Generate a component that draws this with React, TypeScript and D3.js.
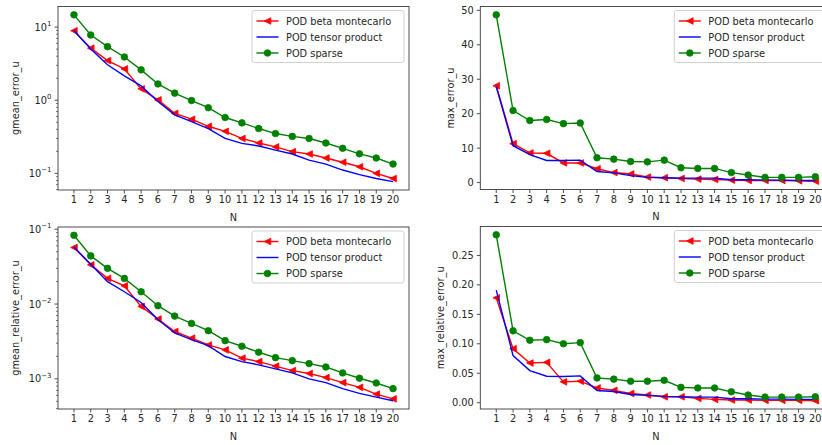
import React from 'react';
import * as d3 from 'd3';

const nValues = [1, 2, 3, 4, 5, 6, 7, 8, 9, 10, 11, 12, 13, 14, 15, 16, 17, 18, 19, 20];
const seriesNames = ['POD beta montecarlo', 'POD tensor product', 'POD sparse'];

const gmeanErrorBeta = [8.9, 5.15, 3.48, 2.68, 1.43, 1.01, 0.66, 0.55, 0.44, 0.376, 0.3, 0.26, 0.23, 0.198, 0.184, 0.162, 0.142, 0.123, 0.1, 0.085];
const gmeanErrorTensor = [8.9, 5.0, 3.05, 2.15, 1.57, 0.96, 0.63, 0.51, 0.41, 0.3, 0.257, 0.237, 0.208, 0.184, 0.152, 0.134, 0.111, 0.096, 0.085, 0.077];
const gmeanErrorSparse = [14.7, 7.8, 5.4, 3.9, 2.6, 1.67, 1.25, 0.99, 0.79, 0.58, 0.49, 0.41, 0.35, 0.32, 0.3, 0.26, 0.22, 0.185, 0.162, 0.134];

const maxErrorBeta = [28.1, 11.3, 8.6, 8.5, 5.7, 5.7, 4.0, 2.9, 2.5, 1.6, 1.4, 1.2, 1.0, 0.9, 0.7, 0.6, 0.6, 0.6, 0.5, 0.4];
const maxErrorTensor = [27.8, 10.7, 8.1, 6.4, 6.4, 6.5, 3.2, 2.8, 2.0, 1.5, 1.4, 1.3, 1.3, 1.3, 0.8, 0.8, 0.7, 0.7, 0.6, 0.6];
const maxErrorSparse = [48.7, 20.9, 18.0, 18.3, 17.1, 17.3, 7.2, 6.8, 6.1, 6.0, 6.5, 4.3, 4.1, 4.1, 2.9, 2.2, 1.5, 1.5, 1.5, 1.7];

const gmeanRelBeta = [0.057, 0.0334, 0.022, 0.0175, 0.0093, 0.0063, 0.0043, 0.0035, 0.00284, 0.00244, 0.00189, 0.0017, 0.00148, 0.00129, 0.00118, 0.00104, 0.00089, 0.00077, 0.000625, 0.00054];
const gmeanRelTensor = [0.058, 0.034, 0.0199, 0.0146, 0.0105, 0.0062, 0.0041, 0.00334, 0.00278, 0.00199, 0.0017, 0.00154, 0.00136, 0.0012, 0.001, 0.00089, 0.00074, 0.00064, 0.00057, 0.00051];
const gmeanRelSparse = [0.083, 0.044, 0.03, 0.022, 0.0146, 0.0095, 0.0069, 0.0055, 0.0044, 0.00324, 0.00273, 0.00227, 0.00192, 0.00175, 0.0016, 0.00144, 0.0012, 0.00102, 0.00088, 0.00074];

const maxRelBeta = [0.178, 0.0916, 0.0674, 0.0685, 0.0354, 0.0365, 0.025, 0.021, 0.0157, 0.013, 0.01, 0.01, 0.0073, 0.0056, 0.0045, 0.0045, 0.004, 0.004, 0.004, 0.0034];
const maxRelTensor = [0.191, 0.08, 0.0545, 0.0449, 0.0444, 0.0455, 0.0208, 0.019, 0.014, 0.0124, 0.0107, 0.01, 0.0095, 0.0095, 0.0067, 0.0067, 0.006, 0.006, 0.0056, 0.0056];
const maxRelSparse = [0.285, 0.122, 0.106, 0.107, 0.1, 0.102, 0.042, 0.04, 0.0365, 0.0365, 0.038, 0.026, 0.025, 0.025, 0.0185, 0.013, 0.0095, 0.0095, 0.0095, 0.01];

const maxErrorTicks = [0, 10, 20, 30, 40, 50];
const maxRelTicks = [0, 0.05, 0.1, 0.15, 0.2, 0.25];

const FONT = 'DejaVu Sans';
const FS = 9.8;
const TXT = '#262626';
const SPINE = '#3a3a3a';
const RED = '#ff0000';
const BLUE = '#0000ff';
const GREEN = '#008000';
const MS = 3.3;

function triLeft(cx: number, cy: number, s: number) {
  return `M${cx - s},${cy} L${cx + s},${cy - s} L${cx + s},${cy + s} Z`;
}

const supMap: Record<string, string> = { '-': '\u2212' };

type PanelProps = {
  left: number; top: number; width: number; height: number;
  log: boolean;
  beta: number[]; tensor: number[]; sparse: number[];
  yTicks?: number[]; yFmt?: (v: number) => string;
  yLabel: string; yLabelX: number;
};

function Panel(p: PanelProps) {
  const { left, top, width, height, log, beta, tensor, sparse } = p;
  const right = left + width;
  const bottom = top + height;
  const x = d3.scaleLinear().domain([1 - 0.95, 20 + 0.95]).range([left, right]);
  const all = [...beta, ...tensor, ...sparse];
  let y: any;
  const majors: number[] = [];
  const minors: number[] = [];
  if (log) {
    const lo = Math.log10(d3.min(all) as number);
    const hi = Math.log10(d3.max(all) as number);
    const m = (hi - lo) * 0.05;
    const d0 = lo - m, d1 = hi + m;
    y = d3.scaleLog().domain([10 ** d0, 10 ** d1]).range([bottom, top]);
    for (let k = Math.floor(d0); k <= Math.ceil(d1); k++) {
      const v = 10 ** k;
      if (k >= d0 && k <= d1) majors.push(k);
      for (let j = 2; j <= 9; j++) {
        const mv = j * v;
        const lm = Math.log10(mv);
        if (lm >= d0 && lm <= d1) minors.push(mv);
      }
    }
  } else {
    const lo = d3.min(all) as number;
    const hi = d3.max(all) as number;
    const m = (hi - lo) * 0.05;
    y = d3.scaleLinear().domain([lo - m, hi + m]).range([bottom, top]);
  }
  const line = d3.line<number>().x((_, i) => x(nValues[i])).y((d) => y(d));

  const legW = 152, legH = 52;
  const legX = right - 5 - legW;
  const legY = top + 4;

  return (
    <g>
      <path d={line(beta) as string} fill="none" stroke={RED} strokeWidth={1.4} />
      {beta.map((v, i) => (
        <path key={'b' + i} d={triLeft(x(nValues[i]), y(v), MS)} fill={RED} stroke={RED} strokeWidth={0.8} />
      ))}
      <path d={line(tensor) as string} fill="none" stroke={BLUE} strokeWidth={1.4} />
      <path d={line(sparse) as string} fill="none" stroke={GREEN} strokeWidth={1.4} />
      {sparse.map((v, i) => (
        <circle key={'s' + i} cx={x(nValues[i])} cy={y(v)} r={MS} fill={GREEN} stroke={GREEN} strokeWidth={0.8} />
      ))}

      <rect x={left} y={top} width={width} height={height} fill="none" stroke={SPINE} strokeWidth={0.9} />

      {nValues.map((n) => (
        <g key={'x' + n}>
          <line x1={x(n)} x2={x(n)} y1={bottom} y2={bottom + 3.5} stroke={SPINE} strokeWidth={0.9} />
          <text x={x(n)} y={bottom + 13} textAnchor="middle" fontFamily={FONT} fontSize={FS} fill={TXT}>{n}</text>
        </g>
      ))}
      <text x={(left + right) / 2} y={bottom + 30.5} textAnchor="middle" fontFamily={FONT} fontSize={FS} fill={TXT}>N</text>

      {log && minors.map((v, i) => (
        <line key={'mn' + i} x1={left - 2} x2={left} y1={y(v)} y2={y(v)} stroke={SPINE} strokeWidth={0.7} />
      ))}
      {log && majors.map((k) => (
        <g key={'mj' + k}>
          <line x1={left - 3.5} x2={left} y1={y(10 ** k)} y2={y(10 ** k)} stroke={SPINE} strokeWidth={0.9} />
          <text x={left - 6.5} y={y(10 ** k) + 3.5} textAnchor="end" fontFamily={FONT} fontSize={FS} fill={TXT}>
            10<tspan fontSize={7} dy={-4.4}>{String(k).split('').map((c) => supMap[c] || c).join('')}</tspan>
          </text>
        </g>
      ))}
      {!log && (p.yTicks || []).map((v) => (
        <g key={'yt' + v}>
          <line x1={left - 3.5} x2={left} y1={y(v)} y2={y(v)} stroke={SPINE} strokeWidth={0.9} />
          <text x={left - 6.5} y={y(v) + 3.5} textAnchor="end" fontFamily={FONT} fontSize={FS} fill={TXT}>{p.yFmt ? p.yFmt(v) : String(v)}</text>
        </g>
      ))}
      <text transform={`translate(${p.yLabelX},${(top + bottom) / 2}) rotate(-90)`} textAnchor="middle" dominantBaseline="central" fontFamily={FONT} fontSize={FS} fill={TXT}>{p.yLabel}</text>

      <rect x={legX} y={legY} width={legW} height={legH} rx={2.5} fill="#ffffff" fillOpacity={0.8} stroke="#cccccc" strokeWidth={0.9} />
      {seriesNames.map((name, i) => {
        const ly = legY + 10.5 + i * 16;
        const hx0 = legX + 4.5, hx1 = legX + 26.5;
        const hc = (hx0 + hx1) / 2;
        const col = [RED, BLUE, GREEN][i];
        return (
          <g key={'lg' + i}>
            <line x1={hx0} x2={hx1} y1={ly} y2={ly} stroke={col} strokeWidth={1.4} />
            {i === 0 && <path d={triLeft(hc, ly, MS)} fill={RED} stroke={RED} strokeWidth={0.8} />}
            {i === 2 && <circle cx={hc} cy={ly} r={MS} fill={GREEN} stroke={GREEN} strokeWidth={0.8} />}
            <text x={legX + 34} y={ly + 3.5} fontFamily={FONT} fontSize={FS} fill={TXT}>{name}</text>
          </g>
        );
      })}
    </g>
  );
}

export default function App() {
  return (
    <svg width={822} height={445} viewBox="0 0 822 445" style={{ position: 'absolute', left: 0, top: 0, background: '#ffffff' }}>
      <rect x={0} y={0} width={822} height={445} fill="#ffffff" />
      <Panel left={58} top={6.5} width={351} height={183.5} log={true}
        beta={gmeanErrorBeta} tensor={gmeanErrorTensor} sparse={gmeanErrorSparse}
        yLabel="gmean_error_u" yLabelX={15} />
      <Panel left={480.3} top={6.5} width={351} height={183} log={false}
        beta={maxErrorBeta} tensor={maxErrorTensor} sparse={maxErrorSparse}
        yTicks={maxErrorTicks} yFmt={(v) => String(v)}
        yLabel="max_error_u" yLabelX={450.3} />
      <Panel left={58} top={227} width={351} height={182} log={true}
        beta={gmeanRelBeta} tensor={gmeanRelTensor} sparse={gmeanRelSparse}
        yLabel="gmean_relative_error_u" yLabelX={15} />
      <Panel left={480.3} top={226.5} width={351} height={182.5} log={false}
        beta={maxRelBeta} tensor={maxRelTensor} sparse={maxRelSparse}
        yTicks={maxRelTicks} yFmt={(v) => v.toFixed(2)}
        yLabel="max_relative_error_u" yLabelX={440.3} />
    </svg>
  );
}
